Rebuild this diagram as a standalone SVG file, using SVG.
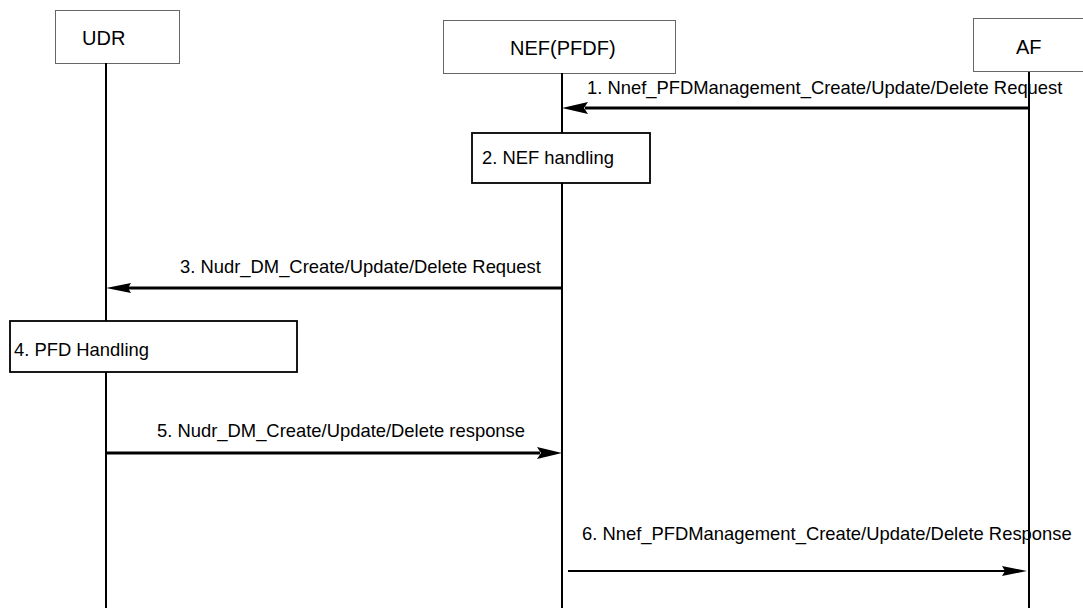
<svg xmlns="http://www.w3.org/2000/svg" width="1083" height="608" viewBox="0 0 1083 608">
<style>
.hdr{fill:#fff;stroke:#666;stroke-width:1}
.proc{fill:#fff;stroke:#000;stroke-width:1.8}
.life{stroke:#000;stroke-width:2;fill:none}
.msg{stroke:#000;stroke-width:3;fill:none}
.msg2{stroke:#000;stroke-width:2;fill:none}
.ht{font-family:"Liberation Sans",Arial,sans-serif;font-size:20px;fill:#000}
.t{font-family:"Liberation Sans",Arial,sans-serif;font-size:18.4px;fill:#000}
.head{fill:#000}
</style>
<rect width="1083" height="608" fill="#fff"/>
<g id="UDR">
<rect class="hdr" x="55.5" y="10.5" width="124" height="53"/>
<text class="ht" x="82" y="45">UDR</text>
<line class="life" x1="106" y1="63" x2="106" y2="608"/>
</g>
<g id="NEF">
<rect class="hdr" x="443.5" y="20.5" width="232" height="53"/>
<text class="ht" x="510" y="55">NEF(PFDF)</text>
<line class="life" x1="562" y1="73" x2="562" y2="608"/>
</g>
<g id="AF">
<rect class="hdr" x="973.5" y="18.5" width="120" height="53"/>
<text class="ht" x="1016" y="54">AF</text>
<line class="life" x1="1029" y1="72" x2="1029" y2="608"/>
</g>
<g id="step2">
<rect class="proc" x="472" y="133" width="178" height="50"/>
<text class="t" x="482" y="164">2. NEF handling</text>
</g>
<g id="step4">
<rect class="proc" x="10" y="321" width="287" height="51"/>
<text class="t" x="14" y="356">4. PFD Handling</text>
</g>
<g id="connectors">
<line class="msg" x1="1029" y1="108" x2="585" y2="108"/>
<polygon class="head" points="562,108 588,102 584,108 588,114"/>
<text class="t" x="587" y="94">1. Nnef_PFDManagement_Create/Update/Delete Request</text>
<line class="msg" x1="562" y1="288" x2="128" y2="288"/>
<polygon class="head" points="106,288 131,283 128,288 131,293"/>
<text class="t" x="180" y="273">3. Nudr_DM_Create/Update/Delete Request</text>
<line class="msg" x1="106" y1="453" x2="540" y2="453"/>
<polygon class="head" points="562,453 537,447 541,453 537,459"/>
<text class="t" x="157" y="437">5. Nudr_DM_Create/Update/Delete response</text>
<line class="msg2" x1="568" y1="571" x2="1005" y2="571"/>
<polygon class="head" points="1027,571 1002,566 1005,571 1002,576"/>
<text class="t" x="582" y="540">6. Nnef_PFDManagement_Create/Update/Delete Response</text>
</g>
</svg>
